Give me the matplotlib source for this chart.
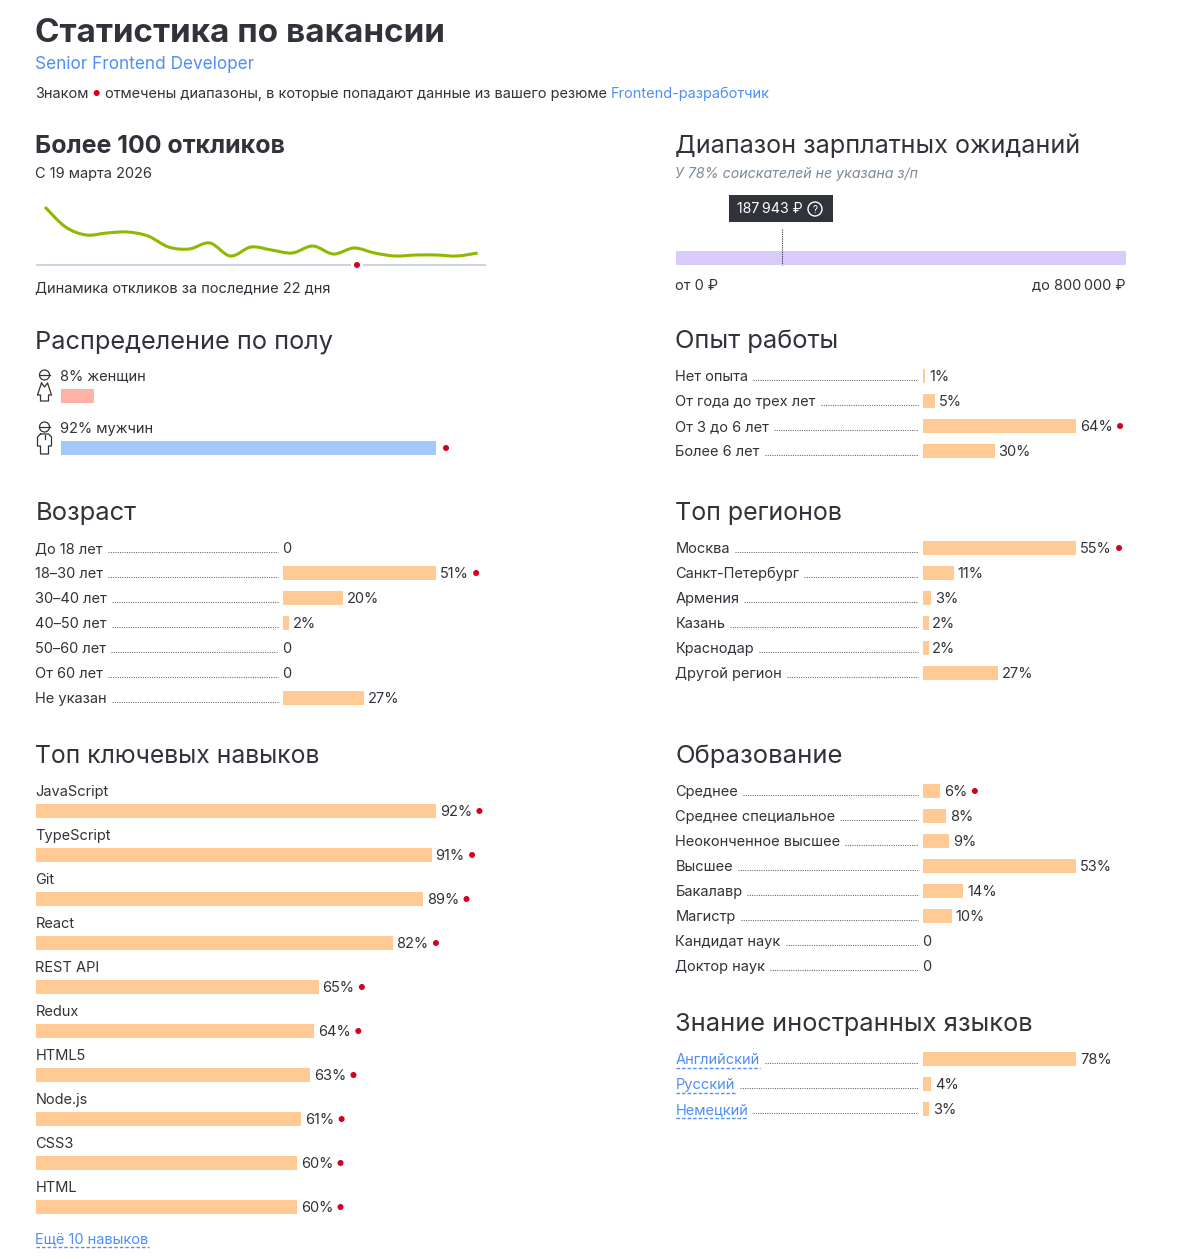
import matplotlib
matplotlib.use('Agg')
import matplotlib.pyplot as plt
from matplotlib.path import Path
from matplotlib.patches import PathPatch, Circle, Rectangle

plt.rcParams['font.family'] = ['Inter', 'DejaVu Sans']

# colours
DARK = '#303339'
BLUE = '#4f8ff7'
BAR = '#ffca94'
RED = '#d6001c'
GREY = '#7c8a99'

# responses per day, 22 days (height above the baseline in px)
response_days = list(range(22))
response_values = [58, 38, 30, 32, 33, 29, 18, 16, 22, 9, 18, 15, 12, 19, 11, 17, 12, 9, 10, 10, 9, 12]

age_labels = ['До 18 лет', '18–30 лет', '30–40 лет', '40–50 лет', '50–60 лет', 'От 60 лет', 'Не указан']
age_values = [0, 51, 20, 2, 0, 0, 27]
age_marks = [1]

exp_labels = ['Нет опыта', 'От года до трех лет', 'От 3 до 6 лет', 'Более 6 лет']
exp_values = [1, 5, 64, 30]
exp_marks = [2]

region_labels = ['Москва', 'Санкт-Петербург', 'Армения', 'Казань', 'Краснодар', 'Другой регион']
region_values = [55, 11, 3, 2, 2, 27]
region_marks = [0]

edu_labels = ['Среднее', 'Среднее специальное', 'Неоконченное высшее', 'Высшее', 'Бакалавр', 'Магистр',
              'Кандидат наук', 'Доктор наук']
edu_values = [6, 8, 9, 53, 14, 10, 0, 0]
edu_marks = [0]

lang_labels = ['Английский', 'Русский', 'Немецкий']
lang_values = [78, 4, 3]

skill_labels = ['JavaScript', 'TypeScript', 'Git', 'React', 'REST API', 'Redux', 'HTML5', 'Node.js', 'CSS3', 'HTML']
skill_values = [92, 91, 89, 82, 65, 64, 63, 61, 60, 60]

gender_labels = ['8% женщин', '92% мужчин']
gender_values = [8, 92]

salary_max = 800000
salary_value = 187943

fig = plt.figure(figsize=(11.98, 12.59), dpi=100)
ax = fig.add_axes([0, 0, 1, 1])
ax.set_xlim(0, 1198)
ax.set_ylim(1259, 0)
ax.axis('off')
renderer = fig.canvas.get_renderer()


def px(n):
    return n * 72 / 100


def text(x, y, s, size=14.6, color=DARK, **kw):
    kw.setdefault('va', 'baseline')
    if kw.get('ha') != 'right':
        x -= 0.7
    return ax.text(x, y, s, fontsize=px(size), color=color, **kw)


def right_edge(t):
    return t.get_window_extent(renderer).x1


def dot(x, y, r=3):
    ax.add_patch(Circle((x, y), r, color=RED, lw=0, zorder=5))


def bar_value(x, y, value, scale, mark):
    # bar with its percent label, and the red dot when it is marked
    if value == 0:
        text(x, y + 5, '0')
        return
    w = value * scale
    ax.barh(y, w, left=x, height=14, color=BAR, lw=0)
    t = text(x + w + 4.5, y + 5, f'{value}%')
    if mark:
        dot(right_edge(t) + 7.5, y)


def rows(labels, values, y0, x0, bar_x, scale, marks=(), link=False):
    for i, (lab, val) in enumerate(zip(labels, values)):
        y = y0 + i * 25
        t = text(x0, y + 5, lab, color=BLUE if link else DARK)
        end = right_edge(t)
        if link:
            ax.plot([x0, end], [y + 9, y + 9], color=BLUE, lw=1, ls=(0, (2.5, 1.5)))
        ax.plot([end + 5, bar_x - 5], [y + 4, y + 4], color='#666666', lw=0.75, ls=(0, (1, 1.2)))
        bar_value(bar_x, y, val, scale, i in marks)


# header
text(36, 42, 'Статистика по вакансии', size=33.2, weight='bold')
text(36, 69, 'Senior Frontend Developer', size=17.2, color=BLUE)
t = text(36, 98, 'Знаком', size=14.5)
dot(right_edge(t) + 8, 93)
t = text(right_edge(t) + 17, 98, 'отмечены диапазоны, в которые попадают данные из вашего резюме', size=14.5)
text(right_edge(t) + 4, 98, 'Frontend-разработчик', size=14.6, color=BLUE)

# responses
text(36, 153, 'Более 100 откликов', size=25, weight='bold')
text(36, 178, 'С 19 марта 2026', size=14.6)
xs = [45 + d * 20.6 for d in response_days]
ys = [265 - v for v in response_values]
verts = [(xs[0], ys[0])]
codes = [Path.MOVETO]
for i in range(len(xs) - 1):
    p0 = (xs[max(i - 1, 0)], ys[max(i - 1, 0)])
    p1 = (xs[i], ys[i])
    p2 = (xs[i + 1], ys[i + 1])
    p3 = (xs[min(i + 2, len(xs) - 1)], ys[min(i + 2, len(xs) - 1)])
    verts += [(p1[0] + (p2[0] - p0[0]) / 6, p1[1] + (p2[1] - p0[1]) / 6),
              (p2[0] - (p3[0] - p1[0]) / 6, p2[1] - (p3[1] - p1[1]) / 6), p2]
    codes += [Path.CURVE4] * 3
ax.add_patch(PathPatch(Path(verts, codes), fc='none', ec='#8fb800', lw=2.2))
ax.plot([36, 351], [265, 265], color='#ccd5df', lw=1.5, solid_capstyle='butt')
ax.plot([363, 486], [265, 265], color='#ccd5df', lw=1.5, solid_capstyle='butt')
dot(357, 265)
text(36, 292, 'Динамика откликов за последние 22 дня')

# salary
text(676, 153, 'Диапазон зарплатных ожиданий', size=25.2)
text(676, 178, 'У 78% соискателей не указана з/п', size=14.2, color=GREY, style='italic')
sal_scale = 450 / salary_max
ax.barh(258, salary_max * sal_scale, left=676, height=14, color='#d9ccfb', lw=0)
sal_x = 676 + salary_value * sal_scale
ax.plot([sal_x, sal_x], [229, 265], color=DARK, lw=0.8, ls=(0, (1, 1)))
ax.add_patch(Rectangle((729, 195), 104, 27, color=DARK, lw=0))
text(738, 213, '187\u2009943 ₽', size=14.2, color='white')
ax.add_patch(Circle((815, 209), 7, fc='none', ec='white', lw=1))
ax.text(815, 209.5, '?', color='white', fontsize=px(10), ha='center', va='center')
text(676, 289.5, 'от 0 ₽')
text(1126, 289.5, 'до 800\u2009000 ₽', ha='right')

# gender
text(36, 348, 'Распределение по полу', size=25.3)
gender_y = [396, 448]
gender_colors = ['#ffb3a6', '#a4c8fb']
for lab, val, y, col, ty in zip(gender_labels, gender_values, gender_y, gender_colors, [380.5, 433]):
    text(61, ty, lab)
    ax.barh(y, val * 375 / 92, left=61, height=14, color=col, lw=0)
dot(446, 448)

# woman icon
cx = 44.5
ax.add_patch(Circle((cx, 375), 5, fc='none', ec=DARK, lw=0.9))
ax.plot([cx - 5, cx + 5], [375, 375], color=DARK, lw=0.9)
ax.plot([cx - 3, cx - 7, cx - 4, cx - 4, cx + 4, cx + 4, cx + 7, cx + 3, cx, cx - 3],
        [383, 395, 395, 401, 401, 395, 395, 383, 387, 383], color=DARK, lw=0.9)
# man icon
ax.add_patch(Circle((cx, 427), 5, fc='none', ec=DARK, lw=0.9))
ax.plot([cx - 5, cx + 5], [427, 427], color=DARK, lw=0.9)
ax.plot([cx - 4, cx - 7, cx - 7, cx - 4, cx - 4, cx + 4, cx + 4, cx + 7, cx + 7, cx + 4, cx - 4],
        [434, 437, 446, 446, 454, 454, 446, 446, 437, 434, 434], color=DARK, lw=0.9)
ax.plot([cx, cx], [435, 439], color=DARK, lw=0.9)

# experience and regions
text(676, 348, 'Опыт работы', size=25.5)
rows(exp_labels, exp_values, 376, 676, 923, 153 / 64, exp_marks)
text(36, 520, 'Возраст', size=25.5)
rows(age_labels, age_values, 548, 36, 283, 3, age_marks)
text(676, 520, 'Топ регионов', size=25)
rows(region_labels, region_values, 548, 676, 923, 153 / 55, region_marks)

# skills
text(36, 763, 'Топ ключевых навыков', size=24.7)
scale = 400 / 92
for i, (lab, val) in enumerate(zip(skill_labels, skill_values)):
    base = 811 + i * 44
    text(36, base - 15 if i else 796, lab)
    bar_value(36, base, val, scale, True)
text(36, 1243, 'Ещё 10 навыков', color=BLUE)
ax.plot([36, 149], [1247, 1247], color=BLUE, lw=1, ls=(0, (2.5, 1.5)))

# education and languages
text(676, 763, 'Образование', size=25.7)
rows(edu_labels, edu_values, 791, 676, 923, 153 / 53, edu_marks)
text(676, 1031, 'Знание иностранных языков', size=25.4)
rows(lang_labels, lang_values, 1059, 676, 923, 153 / 78, link=True)

fig.savefig('out.png', dpi=100, facecolor='white')
